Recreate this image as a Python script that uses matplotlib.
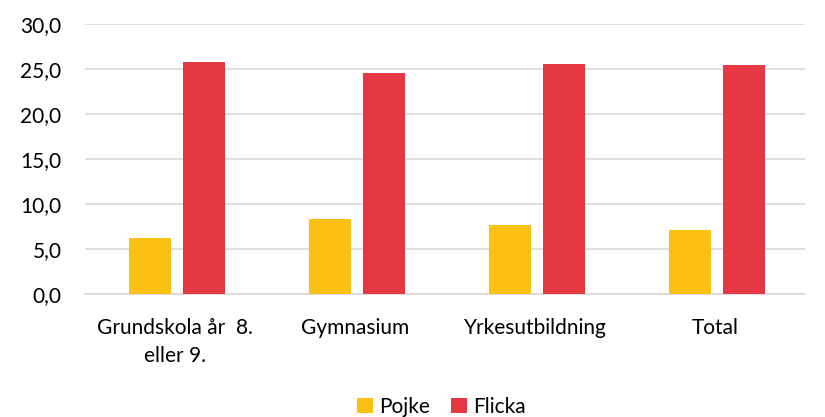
import numpy as np
import matplotlib.pyplot as plt
from matplotlib.ticker import FuncFormatter

categories = ["Grundskola år  8.\neller 9.", "Gymnasium", "Yrkesutbildning", "Total"]
pojke = [6.2, 8.3, 7.7, 7.1]
flicka = [25.8, 24.6, 25.6, 25.5]
series_names = ["Pojke", "Flicka"]

plt.rcParams['font.family'] = ['Lato', 'DejaVu Sans']

fig = plt.figure(figsize=(8.25, 4.17), dpi=100)
ax = fig.add_axes([0.103, 0.295, 0.873, 0.647])

x = np.arange(len(categories))
w = 0.235
ax.bar(x - 0.14, pojke, w, color="#FCC012", label=series_names[0], zorder=3)
ax.bar(x + 0.16, flicka, w, color="#E63843", label=series_names[1], zorder=3)

ax.set_xlim(-0.5, len(categories) - 0.5)
ax.set_ylim(0, 30)
ax.set_yticks(np.arange(0, 31, 5))
ax.yaxis.set_major_formatter(FuncFormatter(lambda v, p: f"{v:.1f}".replace(".", ",")))
ax.set_xticks(x)
ax.set_xticklabels(categories, linespacing=1.55)
ax.grid(axis="y", color="#D9D9D9", linewidth=1.2, zorder=0)
for s in ["top", "right", "left"]:
    ax.spines[s].set_visible(False)
ax.spines["bottom"].set_color("#D9D9D9")
ax.spines["bottom"].set_linewidth(1.2)
ax.tick_params(axis="both", length=0, labelsize=15, colors="black")
ax.tick_params(axis="x", pad=17)
ax.tick_params(axis="y", pad=17)

fig.legend(loc="lower center", bbox_to_anchor=(0.535, -0.045), ncol=2, frameon=False,
           fontsize=15, handlelength=0.75, handleheight=0.75, handletextpad=0.3,
           columnspacing=1.0)

fig.savefig("out.png", dpi=100)
